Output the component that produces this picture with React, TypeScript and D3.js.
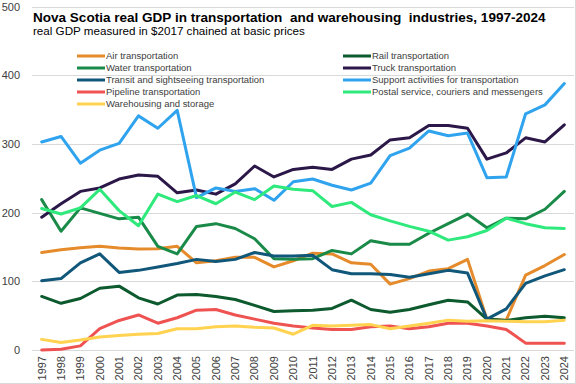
import React, { useEffect, useRef } from 'react';
import * as d3 from 'd3';

const years = d3.range(1997, 2025).map(String);
const yTicks = [0, 100, 200, 300, 400, 500];

const air = [142, 146, 149, 151, 148.5, 147, 147.5, 151, 127, 130, 135, 135, 121, 130, 141, 140, 127, 125, 96, 104, 115, 118.5, 132, 45, 43.5, 109, 123, 139];
const rail = [78, 68, 75, 90, 93, 76, 67, 80, 81, 78, 73.5, 65, 56, 57, 58, 60.5, 72.5, 59, 55, 59, 66, 72.5, 70, 45, 43, 47, 49, 47];
const water = [219, 173, 207, 199, 191, 193.5, 151, 140, 180, 184, 177, 162, 133, 132, 133, 145, 140, 159, 154, 154, 170, 184, 198, 178, 192, 191, 205, 231];
const truck = [193.5, 213, 231, 236, 249, 255, 253, 229, 233, 227, 242, 268, 252, 263, 266, 263, 278, 284, 306, 309, 327, 327, 323, 278, 287, 309, 303, 328];
const transit = [101, 104, 127, 140, 113, 116, 121, 126, 132, 129, 132, 142, 137, 137, 138, 117, 111, 111, 110, 106, 111, 116, 112, 45, 60, 97, 108, 117];
const support = [303, 311, 272, 291, 301, 341, 323, 349, 222, 236, 231, 235, 218, 245, 249, 240, 233, 243, 283, 294, 319, 312, 316, 251, 252, 344, 357, 388];
const pipeline = [0, 1, 6, 31, 43, 51, 39, 47, 58, 59, 51, 45, 39, 35, 32, 30, 30, 34, 35, 31, 34, 39, 39, 35, 30, 10, 10, 10];
const postal = [206, 198, 207, 234, 203, 181, 227, 216, 225, 213, 230, 219, 239, 234, 232, 209, 215, 197, 188, 180, 173, 160, 165, 174, 192, 184, 178, 177];
const warehousing = [15.5, 11, 14.5, 19, 21, 23, 24, 31, 31, 34, 35, 33, 32, 23, 36, 35, 36, 37, 31, 35, 39, 43.5, 42, 42.5, 42, 41, 41, 43.5];

const seriesNames = [
  'Air transportation',
  'Rail transportation',
  'Water transportation',
  'Truck transportation',
  'Transit and sightseeing transportation',
  'Support activities for transportation',
  'Pipeline transportation',
  'Postal service, couriers and messengers',
  'Warehousing and storage',
];
const seriesValues = [air, rail, water, truck, transit, support, pipeline, postal, warehousing];
const seriesColors = ['#e58b2b', '#0c5a2e', '#198a48', '#2b1748', '#10577a', '#2fa3ee', '#ee5352', '#2fe97c', '#ffd24f'];

const narrow = '"Liberation Sans Narrow", "Arial Narrow", "Liberation Sans", Arial, sans-serif';
const regular = '"Liberation Sans", Arial, sans-serif';

// shrink or grow a text's font so it spans the width seen in the reference
const fitWidth = (sel: any, size: number, target: number) => {
  const node = sel.node() as SVGTextElement;
  const w = node.getComputedTextLength();
  if (w > 0) sel.attr('font-size', (size * target) / w);
};

const App = () => {
  const svgRef = useRef<SVGSVGElement>(null);

  useEffect(() => {
    const svg = d3.select(svgRef.current);
    const width = 576;
    const height = 384;
    const margin = { top: 6.7, right: 2, bottom: 34, left: 32 };

    const x = d3.scaleBand().domain(years).range([margin.left, width - margin.right]);
    const y = d3.scaleLinear().domain([0, 500]).range([height - margin.bottom, margin.top]);
    const cx = (d: string) => (x(d) as number) + x.bandwidth() / 2;

    // border on right and bottom
    svg.append('line').attr('x1', 575.5).attr('x2', 575.5).attr('y1', 0).attr('y2', 384).attr('stroke', '#d9d9d9');
    svg.append('line').attr('x1', 0).attr('x2', 576).attr('y1', 383.5).attr('y2', 383.5).attr('stroke', '#d9d9d9');

    // gridlines
    svg.append('g')
      .selectAll('line')
      .data(yTicks)
      .enter()
      .append('line')
      .attr('x1', margin.left)
      .attr('x2', width - margin.right)
      .attr('y1', (d) => Math.round(y(d)) + 0.5)
      .attr('y2', (d) => Math.round(y(d)) + 0.5)
      .attr('stroke', '#d9d9d9')
      .attr('stroke-width', 1);

    // y labels
    svg.append('g')
      .selectAll('text')
      .data(yTicks)
      .enter()
      .append('text')
      .attr('x', 20)
      .attr('y', (d) => y(d))
      .attr('dy', '0.35em')
      .attr('text-anchor', 'end')
      .attr('font-family', regular)
      .attr('font-size', 11)
      .attr('fill', '#404040')
      .text((d) => d);

    // x labels
    svg.append('g')
      .selectAll('text')
      .data(years)
      .enter()
      .append('text')
      .attr('transform', (d) => `translate(${cx(d)},${height - margin.bottom + 6}) rotate(-90)`)
      .attr('dy', '0.35em')
      .attr('text-anchor', 'end')
      .attr('font-family', regular)
      .attr('font-size', 11)
      .attr('fill', '#404040')
      .text((d) => d);

    // lines
    const line = d3
      .line<number>()
      .x((_, i) => cx(years[i]))
      .y((d) => y(d));

    svg.append('g')
      .selectAll('path')
      .data(seriesValues)
      .enter()
      .append('path')
      .attr('d', (d) => line(d))
      .attr('fill', 'none')
      .attr('stroke', (_, i) => seriesColors[i])
      .attr('stroke-width', 3)
      .attr('stroke-linejoin', 'round')
      .attr('stroke-linecap', 'round');

    // title
    const title = svg.append('text')
      .attr('x', 33)
      .attr('y', 21.5)
      .attr('font-family', narrow)
      .attr('font-weight', 'bold')
      .attr('font-size', 14)
      .attr('fill', '#000')
      .style('white-space', 'pre')
      .text('Nova Scotia real GDP in transportation  and warehousing  industries, 1997-2024');
    fitWidth(title, 14, 513);

    const subtitle = svg.append('text')
      .attr('x', 33)
      .attr('y', 35)
      .attr('font-family', narrow)
      .attr('font-size', 12)
      .attr('fill', '#000')
      .text('real GDP measured in $2017 chained at basic prices');
    fitWidth(subtitle, 12, 272);

    // legend
    const legend = svg.append('g')
      .selectAll('g')
      .data(seriesNames)
      .enter()
      .append('g')
      .attr('transform', (_, i) => `translate(${i % 2 === 0 ? 77 : 343},${56 + Math.floor(i / 2) * 12})`);

    legend.append('line')
      .attr('x1', 0)
      .attr('x2', 28)
      .attr('stroke', (_, i) => seriesColors[i])
      .attr('stroke-width', 3);

    const labels = legend.append('text')
      .attr('x', 29)
      .attr('dy', '0.35em')
      .attr('font-family', narrow)
      .attr('font-size', 11)
      .attr('fill', '#404040')
      .text((d) => d);

    // size all legend labels from the widest one
    const postalNode = labels.nodes()[7] as SVGTextElement;
    const pw = postalNode.getComputedTextLength();
    if (pw > 0) labels.attr('font-size', (11 * 171) / pw);

    return () => {
      svg.selectAll('*').remove();
    };
  }, []);

  return (
    <svg
      ref={svgRef}
      width={576}
      height={384}
      style={{ position: 'absolute', left: 0, top: 0, background: '#fff' }}
    ></svg>
  );
};

export default App;
